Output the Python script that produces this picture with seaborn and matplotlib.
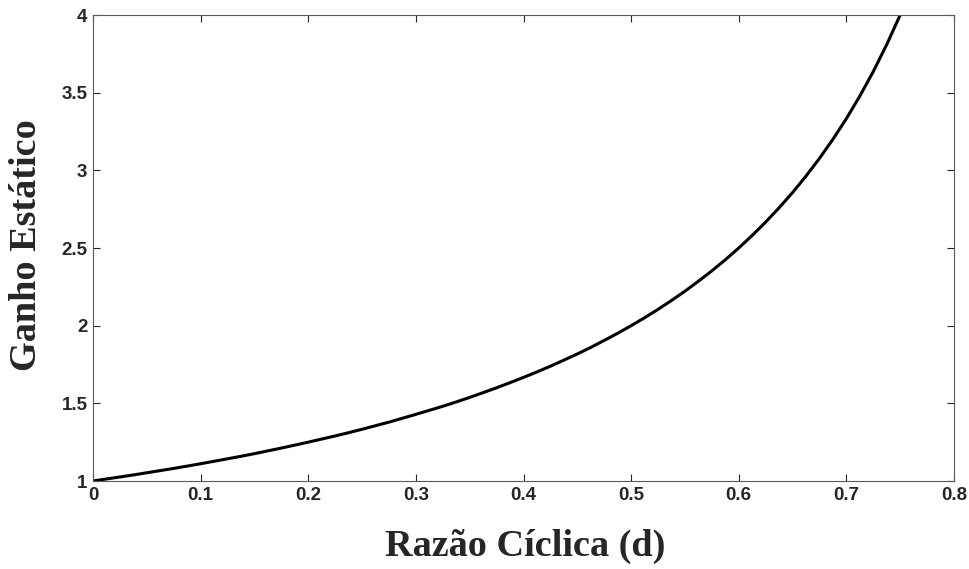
import matplotlib
matplotlib.use("Agg")
import matplotlib.pyplot as plt
from matplotlib.font_manager import FontProperties
import seaborn as sns
import pandas as pd

# Duty cycle and static gain samples along the curve
duty = [0.0000, 0.0125, 0.0250, 0.0375, 0.0500, 0.0625, 0.0750, 0.0875,
        0.1000, 0.1125, 0.1250, 0.1375, 0.1500, 0.1625, 0.1750, 0.1875,
        0.2000, 0.2125, 0.2250, 0.2375, 0.2500, 0.2625, 0.2750, 0.2875,
        0.3000, 0.3125, 0.3250, 0.3375, 0.3500, 0.3625, 0.3750, 0.3875,
        0.4000, 0.4125, 0.4250, 0.4375, 0.4500, 0.4625, 0.4750, 0.4875,
        0.5000, 0.5125, 0.5250, 0.5375, 0.5500, 0.5625, 0.5750, 0.5875,
        0.6000, 0.6125, 0.6250, 0.6375, 0.6500, 0.6625, 0.6750, 0.6875,
        0.7000, 0.7125, 0.7250, 0.7375, 0.7500]
gain = [1.000, 1.013, 1.026, 1.039, 1.053, 1.067, 1.081, 1.096,
        1.111, 1.127, 1.143, 1.159, 1.176, 1.194, 1.212, 1.231,
        1.250, 1.270, 1.290, 1.311, 1.333, 1.356, 1.379, 1.404,
        1.429, 1.455, 1.481, 1.509, 1.538, 1.569, 1.600, 1.633,
        1.667, 1.702, 1.739, 1.778, 1.818, 1.860, 1.905, 1.951,
        2.000, 2.051, 2.105, 2.162, 2.222, 2.286, 2.353, 2.424,
        2.500, 2.581, 2.667, 2.759, 2.857, 2.963, 3.077, 3.200,
        3.333, 3.478, 3.636, 3.810, 4.000]

xticks = [0, 0.1, 0.2, 0.3, 0.4, 0.5, 0.6, 0.7, 0.8]
xticklabels = ["0", "0.1", "0.2", "0.3", "0.4", "0.5", "0.6", "0.7", "0.8"]
yticks = [1, 1.5, 2, 2.5, 3, 3.5, 4]
yticklabels = ["1", "1.5", "2", "2.5", "3", "3.5", "4"]

sns.set_theme(style="white")
df = pd.DataFrame({"d": duty, "G": gain})

fig = plt.figure(figsize=(9.70, 5.69), dpi=100)
ax = fig.add_axes([93 / 970, 1 - 481 / 569, (954 - 93) / 970, (481 - 15) / 569])

sns.lineplot(data=df, x="d", y="G", ax=ax, color="black", linewidth=2.2)

ax.set_xlim(0, 0.8)
ax.set_ylim(1, 4)
ax.set_xticks(xticks)
ax.set_xticklabels(xticklabels)
ax.set_yticks(yticks)
ax.set_yticklabels(yticklabels)

tick_font = FontProperties(family="Liberation Sans", weight="bold", size=13.5)
for lab in ax.get_xticklabels() + ax.get_yticklabels():
    lab.set_fontproperties(tick_font)
    lab.set_color("#262626")

ax.tick_params(axis="both", direction="in", length=5, width=0.8, color="#262626",
               top=True, right=True, bottom=True, left=True, pad=4)

for side in ["left", "right", "top", "bottom"]:
    ax.spines[side].set_visible(True)
    ax.spines[side].set_color("#5a5a5a")
    ax.spines[side].set_linewidth(0.8)

label_font = dict(family="Liberation Serif", weight="bold", size=27.5)
ax.set_xlabel("Razão Cíclica (d)", **label_font)
ax.set_ylabel("Ganho Estático", **label_font)
ax.xaxis.set_label_coords((525 - 93) / (954 - 93), -(546 - 481) / (481 - 15))
ax.yaxis.set_label_coords(-(93 - 26) / (954 - 93), (481 - 245) / (481 - 15))
ax.xaxis.label.set_verticalalignment("center")
ax.yaxis.label.set_verticalalignment("center")

fig.savefig("out.png", dpi=100, facecolor="white")
